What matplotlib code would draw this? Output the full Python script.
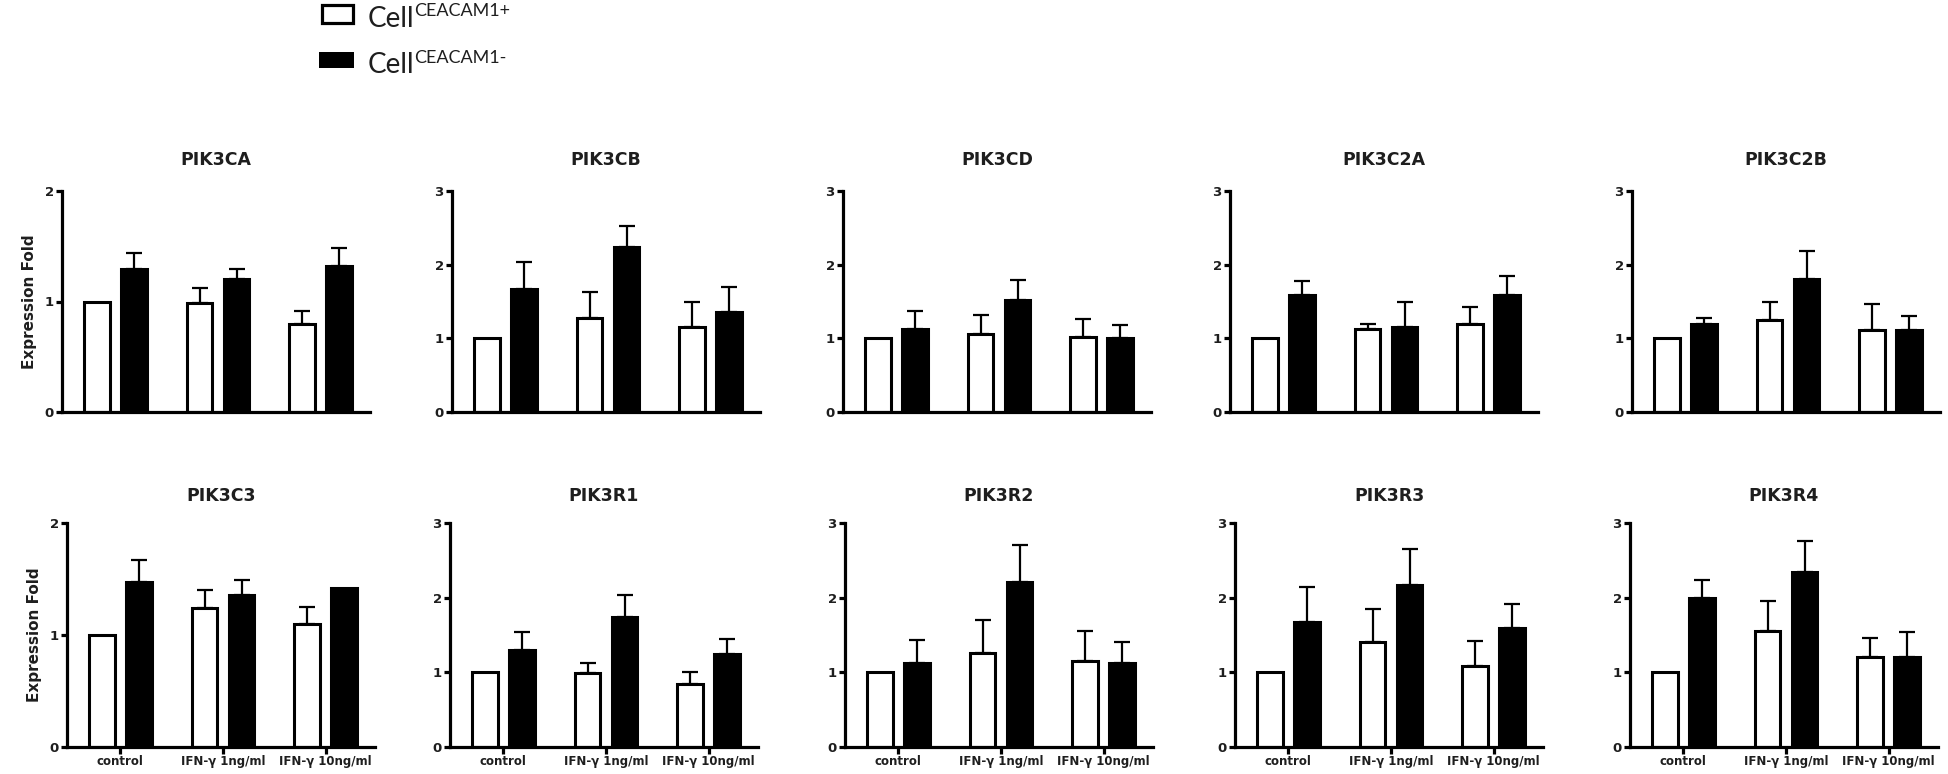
import matplotlib
matplotlib.use('Agg')
import matplotlib.pyplot as plt
import numpy as np
from matplotlib.patches import Rectangle

genes = ['PIK3CA', 'PIK3CB', 'PIK3CD', 'PIK3C2A', 'PIK3C2B',
         'PIK3C3', 'PIK3R1', 'PIK3R2', 'PIK3R3', 'PIK3R4']
conditions = ['control', 'IFN-γ 1ng/ml', 'IFN-γ 10ng/ml']
y_max = [2, 3, 3, 3, 3, 2, 3, 3, 3, 3]

# Cell CEACAM1+ (white bars)
pos_mean = [
    [1.00, 0.99, 0.80],
    [1.00, 1.27, 1.16],
    [1.00, 1.06, 1.02],
    [1.00, 1.13, 1.19],
    [1.00, 1.25, 1.11],
    [1.00, 1.24, 1.10],
    [1.00, 0.99, 0.84],
    [1.00, 1.26, 1.15],
    [1.00, 1.40, 1.09],
    [1.00, 1.55, 1.21],
]
pos_err = [
    [0.00, 0.13, 0.11],
    [0.00, 0.36, 0.33],
    [0.00, 0.26, 0.24],
    [0.00, 0.07, 0.23],
    [0.00, 0.24, 0.35],
    [0.00, 0.16, 0.15],
    [0.00, 0.14, 0.16],
    [0.00, 0.44, 0.41],
    [0.00, 0.45, 0.33],
    [0.00, 0.41, 0.25],
]

# Cell CEACAM1- (black bars)
neg_mean = [
    [1.29, 1.20, 1.32],
    [1.67, 2.24, 1.36],
    [1.12, 1.52, 1.01],
    [1.59, 1.15, 1.59],
    [1.19, 1.80, 1.11],
    [1.47, 1.36, 1.42],
    [1.30, 1.74, 1.24],
    [1.13, 2.21, 1.13],
    [1.68, 2.17, 1.59],
    [1.99, 2.34, 1.21],
]
neg_err = [
    [0.15, 0.09, 0.16],
    [0.36, 0.29, 0.34],
    [0.25, 0.27, 0.17],
    [0.19, 0.35, 0.25],
    [0.09, 0.38, 0.19],
    [0.20, 0.13, 0.00],
    [0.24, 0.30, 0.20],
    [0.30, 0.49, 0.27],
    [0.46, 0.48, 0.33],
    [0.25, 0.42, 0.33],
]

W, H = 1949, 774
FONT = 'DejaVu Sans'
INK = '#1e1e1e'

# panel layout in pixels (left of y axis, top line / zero line measured from top)
lefts = [[62, 452, 843, 1230, 1632], [67, 450, 845, 1235, 1630]]
rows_y = [(191, 412), (523, 747)]
ax_w = 308

fig = plt.figure(figsize=(W / 100, H / 100), dpi=100)

x = np.arange(len(conditions))
bw, off = 0.25, 0.18

for i, gene in enumerate(genes):
    r, c = divmod(i, 5)
    top, zero = rows_y[r]
    ax = fig.add_axes([lefts[r][c] / W, (H - zero) / H, ax_w / W, (zero - top) / H])

    for xs, m, e, fc in [(x - off, pos_mean[i], pos_err[i], 'white'),
                         (x + off, neg_mean[i], neg_err[i], 'black')]:
        m = np.array(m); e = np.array(e)
        has = e > 0
        ax.errorbar(xs[has], m[has], yerr=[np.zeros(has.sum()), e[has]],
                    fmt='none', ecolor='black', elinewidth=1.6,
                    capsize=5.5, capthick=1.6, zorder=1)
        ax.bar(xs, m, width=bw, color=fc, edgecolor='black',
               linewidth=2.2, zorder=2)

    ax.set_xlim(-0.52, 2.48)
    ax.set_ylim(0, y_max[i])
    ax.set_yticks(range(y_max[i] + 1))
    for s in ['top', 'right']:
        ax.spines[s].set_visible(False)
    for s in ['left', 'bottom']:
        ax.spines[s].set_linewidth(2.3)
    ax.tick_params(axis='y', direction='out', length=4, width=2.3, pad=2,
                   labelsize=9.5)
    for lab in ax.get_yticklabels():
        lab.set_fontweight('bold'); lab.set_family(FONT); lab.set_color(INK)

    if r == 1:
        ax.set_xticks(x)
        ax.set_xticklabels(conditions, fontsize=8.5, fontweight='bold',
                           family=FONT, color=INK)
        ax.tick_params(axis='x', direction='out', length=5, width=2.3, pad=1)
    else:
        ax.set_xticks([])

    ax.set_title(gene, fontsize=12.5, fontweight='bold', family=FONT,
                 color=INK, pad=19 if r == 0 else 16)
    if c == 0:
        ax.set_ylabel('Expression Fold', fontsize=11, fontweight='bold',
                      family=FONT, color=INK, labelpad=5)

# legend drawn by hand at the top
fig.add_artist(Rectangle((322 / W, (H - 23) / H), 31 / W, 18 / H,
                         transform=fig.transFigure, facecolor='white',
                         edgecolor='black', linewidth=2.3))
fig.add_artist(Rectangle((319 / W, (H - 68) / H), 35 / W, 16 / H,
                         transform=fig.transFigure, facecolor='black',
                         edgecolor='black', linewidth=0))
for sign, base, sup_base in [('+', 27, 16), ('-', 73, 63)]:
    t = fig.text(368 / W, (H - base) / H, 'Cell', fontsize=20, family='Lato',
                 color=INK, va='baseline', ha='left')
    fig.add_artist(plt.Annotation('CEACAM1' + sign, xy=(1, H - sup_base),
                                  xycoords=(t, 'figure pixels'),
                                  fontsize=13, family='Lato', color=INK,
                                  va='baseline', ha='left'))

fig.savefig('out.png', dpi=100)
